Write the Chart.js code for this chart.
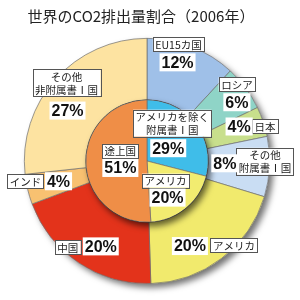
<!DOCTYPE html>
<html>
<head>
<meta charset="utf-8">
<script src="https://cdn.jsdelivr.net/npm/chart.js@4"></script>
<style>
  html, body { margin: 0; padding: 0; background: #fff; }
  #wrap { width: 300px; height: 300px; }
</style>
</head>
<body>
<div id="wrap"><canvas id="co2"></canvas></div>
<script>
const titleText = '世界のCO2排出量割合（2006年）';

// outer ring: countries
const outerLabels = ['EU15カ国', 'ロシア', '日本', 'その他\n附属書Ⅰ国', 'アメリカ', '中国', 'インド', 'その他\n非附属書Ⅰ国'];
const outerValues = [12, 6, 4, 8, 20, 20, 4, 27];
const outerColors = ['#9fc0e8', '#8fd4c7', '#c8df8c', '#c9ddf3', '#f1ea6d', '#e3331b', '#f8c171', '#fde3a1'];

// inner pie: groups
const innerLabels = ['アメリカを除く\n附属書Ⅰ国', 'アメリカ', '途上国'];
const innerValues = [29, 20, 51];
const innerColors = ['#3fbde9', '#f2ec70', '#ef8e47'];

// label placement relative to each arc's midpoint: [nameDx, nameDy, pctDx, pctDy]
const outerOffsets = [
    [-2, -31, -3, -13],
    [16, -22, 16, -4],
    [31, -5, 5, -5],
    [26, -4, -14, -2],
    [31, 11, -13, 12],
    [-28, 10, 5, 9],
    [-32, -1, 1, -1],
    [-12, -17, -11, 11]
];
const innerOffsets = [
    [1, -19, -3, 6],
    [-1, -4, 1, 13],
    [4, -11, 4, 6]
];

const JP = '"Noto Sans CJK JP", sans-serif';

function nameBox(ctx, text, x, y) {
    const lines = text.split('\n');
    ctx.font = '10.5px ' + JP;
    const lh = 13;
    let w = 0;
    lines.forEach(l => { w = Math.max(w, ctx.measureText(l).width); });
    w += 5;
    const h = lines.length * lh + 1;
    ctx.fillStyle = '#fff';
    ctx.fillRect(x - w / 2, y - h / 2, w, h);
    ctx.strokeStyle = '#555';
    ctx.lineWidth = 1;
    ctx.strokeRect(Math.round(x - w / 2) + 0.5, Math.round(y - h / 2) + 0.5, Math.round(w), Math.round(h));
    ctx.fillStyle = '#222';
    ctx.textAlign = 'center';
    ctx.textBaseline = 'middle';
    lines.forEach((l, i) => {
        ctx.fillText(l, x, y - h / 2 + lh / 2 + 1 + i * lh);
    });
}

function pctLabel(ctx, text, x, y) {
    ctx.font = 'bold 16px "Liberation Sans", Arial, sans-serif';
    const w = ctx.measureText(text).width + 4;
    ctx.fillStyle = '#fff';
    ctx.fillRect(x - w / 2, y - 9, w, 18);
    ctx.fillStyle = '#111';
    ctx.textAlign = 'center';
    ctx.textBaseline = 'middle';
    ctx.fillText(text, x, y + 1);
}

const shadowPlugin = {
    id: 'ringShadows',
    beforeDatasetsDraw(chart) {
        const arc = chart.getDatasetMeta(0).data[0];
        const ctx = chart.ctx;
        ctx.save();
        ctx.shadowColor = 'rgba(0,0,0,0.55)';
        ctx.shadowBlur = 6;
        ctx.shadowOffsetX = 4;
        ctx.shadowOffsetY = 4;
        ctx.fillStyle = '#fff';
        ctx.beginPath();
        ctx.arc(arc.x, arc.y, arc.outerRadius, 0, Math.PI * 2);
        ctx.fill();
        ctx.restore();
    },
    afterDatasetsDraw(chart) {
        const inner = chart.getDatasetMeta(1).data[0];
        const outer = chart.getDatasetMeta(0).data[0];
        const ctx = chart.ctx;
        ctx.save();
        ctx.beginPath();
        ctx.arc(inner.x, inner.y, outer.outerRadius, 0, Math.PI * 2);
        ctx.arc(inner.x, inner.y, inner.outerRadius, 0, Math.PI * 2, true);
        ctx.clip();
        ctx.shadowColor = 'rgba(0,0,0,0.6)';
        ctx.shadowBlur = 6;
        ctx.shadowOffsetX = 3;
        ctx.shadowOffsetY = 4;
        ctx.fillStyle = '#000';
        ctx.beginPath();
        ctx.arc(inner.x, inner.y, inner.outerRadius, 0, Math.PI * 2);
        ctx.fill();
        ctx.restore();
    },
    afterDraw(chart) {
        const ctx = chart.ctx;
        ctx.save();
        ctx.font = '15px ' + JP;
        ctx.fillStyle = '#222';
        ctx.textAlign = 'center';
        ctx.textBaseline = 'middle';
        ctx.fillText(titleText, 141, 16);

        const drawSet = (dsIndex, names, values, offsets) => {
            chart.getDatasetMeta(dsIndex).data.forEach((el, i) => {
                const p = el.tooltipPosition();
                const o = offsets[i];
                nameBox(ctx, names[i], p.x + o[0], p.y + o[1]);
                pctLabel(ctx, values[i] + '%', p.x + o[2], p.y + o[3]);
            });
        };
        drawSet(0, outerLabels, outerValues, outerOffsets);
        drawSet(1, innerLabels, innerValues, innerOffsets);
        ctx.restore();
    }
};

new Chart(document.getElementById('co2'), {
    type: 'doughnut',
    data: {
        labels: outerLabels,
        datasets: [{
            data: outerValues,
            backgroundColor: outerColors,
            borderColor: '#6f6f6f',
            borderWidth: 0.7
        }, {
            data: innerValues,
            backgroundColor: innerColors,
            borderColor: '#6f6f6f',
            borderWidth: 0.7
        }]
    },
    options: {
        responsive: true,
        maintainAspectRatio: false,
        animation: false,
        cutout: 0,
        layout: {
            padding: { left: 24, right: 30, top: 38, bottom: 16 }
        },
        plugins: {
            legend: { display: false },
            tooltip: { enabled: false }
        }
    },
    plugins: [shadowPlugin]
});
</script>
</body>
</html>
